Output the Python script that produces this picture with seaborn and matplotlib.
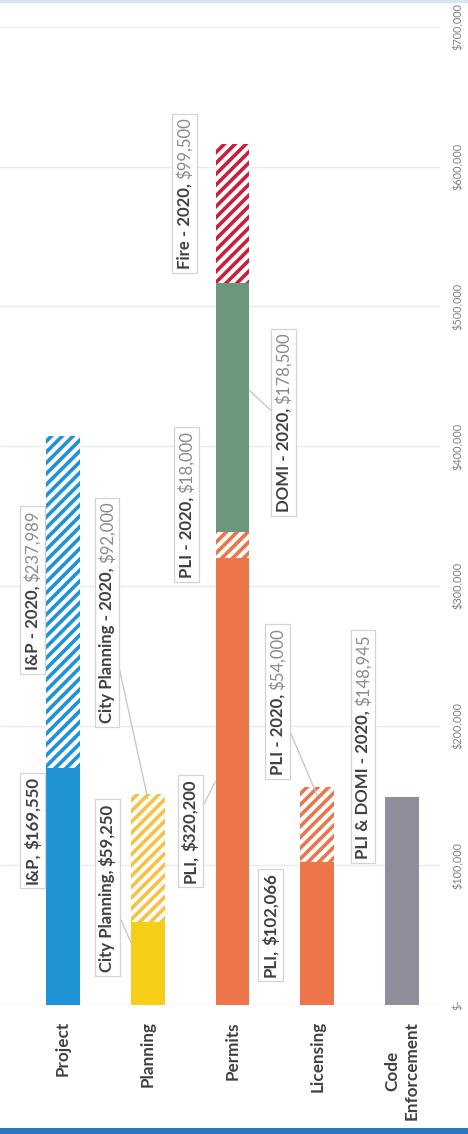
#-------------------------------------------------------------------------------
# Stacked budget bars by function (chart rotated 90 degrees, as in the slide)
#-------------------------------------------------------------------------------

import numpy as np
import pandas as pd
import matplotlib
matplotlib.use("Agg")
import matplotlib.pyplot as plt
from matplotlib.patches import Rectangle
from matplotlib.transforms import IdentityTransform
import seaborn as sns

# --------------------------------------
# Data
# --------------------------------------
categories = ["Project", "Planning", "Permits", "Licensing", "Code\nEnforcement"]

seg_category = ["Project", "Project", "Planning", "Planning",
                "Permits", "Permits", "Permits", "Permits",
                "Licensing", "Licensing", "Code\nEnforcement"]
seg_name = ["I&P", "I&P - 2020", "City Planning", "City Planning - 2020",
            "PLI", "PLI - 2020", "DOMI - 2020", "Fire - 2020",
            "PLI", "PLI - 2020", "PLI & DOMI - 2020"]
seg_value = [169550, 237989, 59250, 92000,
             320200, 18000, 178500, 99500,
             102066, 54000, 148945]
seg_is_2020 = [False, True, False, True, False, True, True, True, False, True, True]

value_ticks = [0, 100000, 200000, 300000, 400000, 500000, 600000, 700000]
value_tick_labels = ["$-", "$100,000", "$200,000", "$300,000",
                     "$400,000", "$500,000", "$600,000", "$700,000"]

# --------------------------------------
# Styles and label layout
# --------------------------------------
seg_color = ["#1f93d4", "#1f93d4", "#f6cd17", "#f6c244",
             "#ec7549", "#ec7549", "#6d977a", "#c8203c",
             "#ec7549", "#e9774d", "#8e8f9a"]
seg_hatch = [None, "////", None, "////", None, "////", None, "////", None, "////", None]

# label centres (category position, dollars) and leader targets
label_x = [-0.36, -0.36, 0.52, 0.52, 1.50, 1.46, 2.60, 1.43, 2.45, 2.53, 3.54]
label_y = [125000, 297000, 84000, 281000, 124500, 358000, 417000, 581000, 57000, 217000, 185000]
leader_xy = [None, None, (0.8, 45000), (1.0, 148000), (1.8, 160000), None,
             (2.2, 440000), None, None, (3.0, 150000), None]

DARK = "#404040"
GREY = "#8a8a8a"

# stack bottoms per category
bottoms = []
running = {c: 0 for c in categories}
for c, v in zip(seg_category, seg_value):
    bottoms.append(running[c])
    running[c] += v

# --------------------------------------
# Plot
# --------------------------------------
sns.set_theme(style="white")
plt.rcParams["font.family"] = ["Lato", "DejaVu Sans"]
plt.rcParams["hatch.linewidth"] = 2.0

W, H, DPI = 468, 1134, 130
fig = plt.figure(figsize=(W / DPI, H / DPI), dpi=DPI)
ax = fig.add_axes([0, (H - 1005) / H, 440 / W, (1005 - 27) / H])

for i in range(len(seg_value)):
    sns.barplot(x=[seg_category[i]], y=[seg_value[i]], order=categories,
                bottom=bottoms[i], width=0.4, color=seg_color[i], saturation=1,
                errorbar=None, linewidth=0, ax=ax, zorder=3)
    bar = ax.patches[-1]
    bar.set_linewidth(0)
    if seg_hatch[i]:
        bar.set_facecolor("white")
        bar.set_edgecolor(seg_color[i])
        bar.set_hatch(seg_hatch[i])
    else:
        bar.set_facecolor(seg_color[i])
        bar.set_edgecolor(seg_color[i])

ax.set_xlim(-0.743, 4.449)
ax.set_ylim(0, 700000)
ax.set_xlabel("")
ax.set_ylabel("")

ax.set_xticks(range(len(categories)))
ax.set_xticklabels(categories, rotation=90, fontsize=9.5, fontweight="bold",
                   color=DARK, ha="center", va="top", multialignment="center")
ax.tick_params(axis="x", length=0, pad=9)

ax.yaxis.tick_right()
ax.set_yticks(value_ticks)
ax.set_yticklabels(value_tick_labels, rotation=90, va="center", fontsize=6, color="#7f7f7f")
ax.tick_params(axis="y", length=0, pad=7)

ax.yaxis.grid(True, color="#ececec", linewidth=0.8)
ax.set_axisbelow(True)
sns.despine(ax=ax, left=True, bottom=True, right=True, top=True)

# --------------------------------------
# Data callouts (name bold, 2020 values in grey)
# --------------------------------------
fig.canvas.draw()
renderer = fig.canvas.get_renderer()
ident = IdentityTransform()
LBL = 9.3
GAP = 4
PAD = 4

for i in range(len(seg_value)):
    lx, ly = label_x[i], label_y[i]
    name = seg_name[i] + ","
    val = "${:,}".format(seg_value[i])
    if leader_xy[i] is not None:
        ax.annotate("", xy=leader_xy[i], xytext=(lx, ly),
                    arrowprops=dict(arrowstyle="-", color="#c4c4c4", lw=0.7,
                                    shrinkA=0, shrinkB=0), zorder=4)
    cx, cy = ax.transData.transform((lx, ly))
    t1 = ax.text(cx, cy, name, transform=ident, rotation=90, ha="center", va="bottom",
                 fontsize=LBL, fontweight="bold", color=DARK, zorder=6)
    t2 = ax.text(cx, cy, val, transform=ident, rotation=90, ha="center", va="bottom",
                 fontsize=LBL, fontweight="normal" if seg_is_2020[i] else "bold",
                 color=GREY if seg_is_2020[i] else DARK, zorder=6)
    h1 = t1.get_window_extent(renderer).height
    h2 = t2.get_window_extent(renderer).height
    start = cy - (h1 + GAP + h2) / 2
    t1.set_position((cx, start))
    t2.set_position((cx, start + h1 + GAP))
    b1 = t1.get_window_extent(renderer)
    b2 = t2.get_window_extent(renderer)
    x0 = min(b1.x0, b2.x0) - PAD
    x1 = max(b1.x1, b2.x1) + PAD
    y0 = b1.y0 - PAD
    y1 = b2.y1 + PAD
    ax.add_patch(Rectangle((x0, y0), x1 - x0, y1 - y0, transform=ident,
                           fc="white", ec="#d4d4d4", lw=0.7, zorder=5))

# slide frame lines
fig.add_artist(Rectangle((0, 0), 1, 6 / H, transform=fig.transFigure,
                         color="#2a78c2", lw=0))
fig.add_artist(Rectangle((0, 1 - 3 / H), 1, 3 / H, transform=fig.transFigure,
                         color="#d3e6f5", lw=0))

plt.savefig("out.png", dpi=DPI)
